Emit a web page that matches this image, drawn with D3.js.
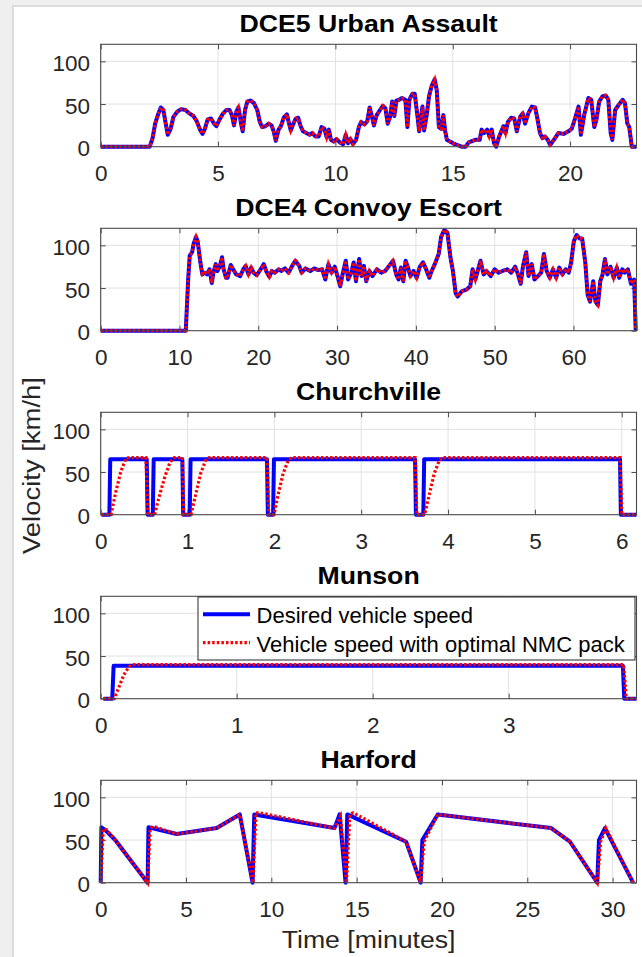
<!DOCTYPE html>
<html>
<head>
<meta charset="utf-8">
<script src="https://cdn.jsdelivr.net/npm/d3@7"></script>
<style>
  body { margin: 0; background: #fff; }
  svg text { font-family: "Liberation Sans", Arial, Helvetica, sans-serif; }
</style>
</head>
<body>
<div id="chart"></div>
<script>
// ---- drive cycle data (time in minutes, speed in km/h) ----
var dce5Time = [0, 2.09, 2.21, 2.32, 2.46, 2.56, 2.67, 2.77, 2.86, 2.98, 3.10, 3.26, 3.43, 3.61, 3.78, 3.95, 4.09, 4.23, 4.34, 4.44,
  4.56, 4.70, 4.83, 4.93, 5.05, 5.19, 5.35, 5.49, 5.59, 5.68, 5.78, 5.87, 5.98, 6.05, 6.15, 6.25, 6.39, 6.53, 6.67, 6.78,
  6.88, 7.02, 7.16, 7.28, 7.37, 7.46, 7.58, 7.68, 7.80, 7.93, 8.01, 8.10, 8.21, 8.31, 8.41, 8.52, 8.62, 8.76, 8.90, 9.02,
  9.15, 9.29, 9.41, 9.53, 9.63, 9.72, 9.81, 9.93, 10.05, 10.19, 10.33, 10.44, 10.54, 10.64, 10.75, 10.88, 11.0, 11.1, 11.24, 11.36,
  11.46, 11.55, 11.64, 11.76, 11.90, 12.02, 12.13, 12.23, 12.32, 12.42, 12.51, 12.60, 12.72, 12.84, 12.98, 13.07, 13.15, 13.28, 13.38, 13.50,
  13.57, 13.64, 13.71, 13.78, 13.89, 13.99, 14.11, 14.23, 14.32, 14.41, 14.51, 14.6, 14.68, 14.75, 14.88, 15.02, 15.2, 15.37, 15.55, 15.68,
  15.96, 16.15, 16.23, 16.33, 16.47, 16.56, 16.66, 16.76, 16.85, 16.98, 17.16, 17.25, 17.35, 17.49, 17.62, 17.73, 17.87, 17.98, 18.08, 18.22,
  18.37, 18.51, 18.62, 18.72, 18.82, 18.93, 19.05, 19.15, 19.36, 19.5, 19.72, 19.93, 20.07, 20.21, 20.36, 20.46, 20.6, 20.78, 20.9, 21.03,
  21.12, 21.24, 21.38, 21.52, 21.63, 21.73, 21.8, 21.92, 22.07, 22.24, 22.34, 22.44, 22.52, 22.63, 22.83];
var dce5Desired = [0, 0, 10, 27, 39, 46, 43, 27, 14, 21, 35, 41, 44, 43, 39, 36, 30, 20, 15, 21,
  32, 33, 27, 24, 31, 38, 43, 43, 37, 25, 41, 46, 27, 18, 43, 53, 54, 51, 43, 29,
  23, 24, 27, 25, 18, 7, 20, 24, 34, 38, 29, 19, 27, 33, 34, 24, 18, 16, 14, 16,
  12, 12, 23, 21, 11, 20, 8, 6, 9, 5, 3, 14, 4, 9, 3, 8, 23, 29, 26, 30,
  46, 36, 25, 37, 43, 48, 45, 27, 34, 53, 36, 54, 55, 57, 55, 23, 55, 62, 62, 35,
  18, 33, 47, 19, 37, 59, 72, 79, 66, 23, 21, 37, 18, 8, 6, 4, 2, 0, 0, 5,
  8, 8, 20, 16, 20, 12, 20, 4, 0, 12, 24, 16, 29, 34, 33, 18, 35, 39, 27, 39,
  47, 46, 31, 16, 10, 12, 8, 2, 10, 16, 15, 18, 21, 33, 47, 14, 37, 57, 55, 23,
  31, 53, 59, 60, 55, 16, 8, 43, 49, 55, 51, 27, 23, 0, 0];
var dce5Vehicle = dce5Desired; // the pack follows this cycle exactly at this scale

var dce4Time = [0, 10.8, 11.1, 11.3, 11.6, 11.8, 12.1, 12.3, 12.65, 12.9, 13.2, 13.5, 13.8, 14.1, 14.3, 14.6, 14.8, 15.1, 15.4, 15.6,
  15.9, 16.1, 16.5, 16.8, 17.2, 17.7, 18.1, 18.4, 18.75, 19.1, 19.4, 19.8, 20.3, 20.7, 21.0, 21.4, 21.7, 22.1, 22.6, 22.9,
  23.4, 23.85, 24.3, 24.7, 25.2, 25.5, 26.0, 26.6, 27.1, 27.6, 28.1, 28.5, 28.9, 29.3, 29.7, 30.05, 30.4, 30.7, 31.1, 31.4,
  31.8, 32.1, 32.4, 32.8, 33.1, 33.4, 33.7, 34.1, 34.5, 35.05, 35.6, 36.1, 36.6, 37.1, 37.5, 37.8, 38.1, 38.4, 38.7, 39.0,
  39.3, 39.7, 40.1, 40.5, 40.9, 41.3, 41.7, 42.0, 42.4, 42.9, 43.2, 43.6, 44.0, 44.4, 44.7, 45.05, 45.3, 45.8, 46.4, 46.9,
  47.2, 47.55, 47.9, 48.2, 48.6, 48.96, 49.5, 50.0, 50.5, 51.0, 51.6, 52.1, 52.6, 52.97, 53.3, 53.6, 54.0, 54.3, 54.7, 55.05,
  55.5, 55.9, 56.25, 56.6, 57.0, 57.4, 57.8, 58.2, 58.6, 59.0, 59.4, 59.7, 60.05, 60.4, 60.8, 61.1, 61.5, 61.8, 62.1, 62.5,
  62.8, 63.1, 63.4, 63.7, 64.0, 64.3, 64.7, 65.1, 65.5, 65.8, 66.2, 66.5, 66.9, 67.3, 67.7, 67.9];
var dce4Desired = [0, 0, 60, 88, 92, 102, 110, 105, 80, 66, 68, 66, 72, 56, 68, 78, 70, 75, 86, 72,
  62, 62, 77, 72, 66, 64, 72, 76, 66, 74, 68, 65, 72, 78, 70, 63, 70, 68, 72, 70,
  73, 68, 76, 82, 76, 68, 73, 70, 73, 71, 72, 60, 78, 68, 75, 64, 52, 66, 82, 60,
  68, 80, 58, 84, 64, 76, 58, 70, 64, 72, 68, 70, 76, 82, 66, 60, 74, 58, 82, 74,
  64, 70, 62, 75, 80, 72, 62, 70, 78, 90, 110, 118, 115, 85, 70, 44, 40, 46, 48, 52,
  72, 60, 72, 82, 66, 70, 64, 72, 68, 70, 72, 68, 75, 66, 55, 76, 92, 64, 78, 60,
  64, 68, 90, 70, 62, 72, 62, 74, 66, 72, 68, 80, 105, 112, 108, 108, 80, 42, 34, 58,
  34, 30, 58, 66, 84, 66, 75, 62, 74, 62, 72, 68, 72, 55, 60, 0];
var dce4Vehicle = dce4Desired; // the pack follows this cycle exactly at this scale

var churchDesiredTime = [0.01, 0.10, 0.11, 0.53, 0.54, 0.60, 0.61, 0.94, 0.95, 1.025, 1.035, 1.915, 1.925, 1.985, 1.995, 3.62, 3.63, 3.715, 3.725, 5.98, 5.99, 6.17];
var churchDesired = [0, 0, 65, 65, 0, 0, 65, 65, 0, 0, 65, 65, 0, 0, 65, 65, 0, 0, 65, 65, 0, 0];
var churchVehicleTime = [0.01, 0.12, 0.17, 0.23, 0.29, 0.34, 0.52, 0.545, 0.62, 0.67, 0.74, 0.80, 0.85, 0.94, 0.955, 1.04, 1.09, 1.15, 1.21, 1.25,
  1.915, 1.935, 1.995, 2.04, 2.10, 2.16, 2.20, 3.62, 3.64, 3.73, 3.78, 3.84, 3.90, 3.94, 5.98, 6.0, 6.17];
var churchVehicle = [0, 0, 25, 50, 66, 67, 67, 0, 0, 20, 45, 62, 67, 67, 0, 0, 22, 48, 64, 67,
  67, 0, 0, 22, 48, 64, 67, 67, 0, 0, 22, 48, 64, 67, 67, 0, 0];

var munsonDesiredTime = [0.02, 0.085, 0.095, 3.84, 3.85, 3.94];
var munsonDesired = [0, 0, 38.5, 38.5, 0, 0];
var munsonVehicleTime = [0.02, 0.10, 0.13, 0.17, 0.21, 0.25, 3.845, 3.865, 3.94];
var munsonVehicle = [0, 0, 12, 28, 38, 40, 40, 0, 0];

var harfordDesiredTime = [0, 0.04, 0.3, 0.85, 2.75, 2.8, 4.45, 6.8, 8.15, 8.9, 9.0, 13.7, 14.0, 14.35, 14.45, 17.9, 18.75, 18.85, 19.75, 26.4,
  27.5, 29.1, 29.2, 29.55, 31.2];
var harfordDesired = [0, 65, 61, 50, 0, 65, 57, 64, 80, 0, 80, 64, 80, 0, 80, 48, 0, 50, 80, 64,
  48, 0, 50, 64, 0];
var harfordVehicleTime = [0, 0.15, 0.35, 0.85, 2.75, 2.9, 3.1, 4.45, 6.8, 8.15, 8.92, 9.1, 9.3, 13.7, 14.05, 14.4, 14.6, 14.8, 17.9, 18.75,
  18.95, 19.75, 26.4, 27.5, 29.1, 29.3, 29.6, 31.2];
var harfordVehicle = [0, 63, 62, 50, 0, 64, 66, 57, 64, 80, 0, 82, 82, 64, 78, 0, 80, 82, 48, 0,
  48, 80, 64, 48, 0, 48, 64, 0];

var titles = ["DCE5 Urban Assault", "DCE4 Convoy Escort", "Churchville", "Munson", "Harford"];
var xMaxes = [22.83, 68, 6.17, 3.94, 31.4];
var xTickSets = [[0, 5, 10, 15, 20], [0, 10, 20, 30, 40, 50, 60], [0, 1, 2, 3, 4, 5, 6], [0, 1, 2, 3], [0, 5, 10, 15, 20, 25, 30]];
var yTicks = [0, 50, 100];
var seriesNames = ["Desired vehicle speed", "Vehicle speed with optimal NMC pack"];

var desiredSeries = [
  [dce5Time, dce5Desired], [dce4Time, dce4Desired], [churchDesiredTime, churchDesired],
  [munsonDesiredTime, munsonDesired], [harfordDesiredTime, harfordDesired]];
var vehicleSeries = [
  [dce5Time, dce5Vehicle], [dce4Time, dce4Vehicle], [churchVehicleTime, churchVehicle],
  [munsonVehicleTime, munsonVehicle], [harfordVehicleTime, harfordVehicle]];

// ---- layout ----
var W = 642, H = 957;
var left = 100.7, right = 636.5, firstTop = 44.3, step = 184, plotH = 102.4;
var axisColor = "#4a4a4a", gridColor = "#e2e2e2", textColor = "#262626";
var blueWidth = 4, redWidth = 3.2, redDash = "2.5,2.1";

var svg = d3.select("#chart").append("svg")
    .attr("width", W)
    .attr("height", H);

// window frame around the figure
svg.append("rect").attr("width", W).attr("height", H).style("fill", "#efefef");
svg.append("rect").attr("x", 12).attr("y", 5).attr("width", W).attr("height", H).style("fill", "#dddddd");
svg.append("rect").attr("x", 14).attr("y", 7).attr("width", W).attr("height", H).style("fill", "#ffffff");

var line = d3.line();

titles.forEach(function(title, i) {
  var top = firstTop + i * step;
  var x = d3.scaleLinear().domain([0, xMaxes[i]]).range([left, right]);
  var y = d3.scaleLinear().domain([0, 120]).range([top + plotH, top]);
  var g = svg.append("g");

  // grid
  g.selectAll(".vgrid").data(xTickSets[i]).enter().append("line")
      .attr("x1", function(d) { return x(d); }).attr("x2", function(d) { return x(d); })
      .attr("y1", top).attr("y2", top + plotH)
      .style("stroke", gridColor).style("stroke-width", 1);
  g.selectAll(".hgrid").data(yTicks.slice(1)).enter().append("line")
      .attr("x1", left).attr("x2", right)
      .attr("y1", function(d) { return y(d); }).attr("y2", function(d) { return y(d); })
      .style("stroke", gridColor).style("stroke-width", 1);

  // axes with ticks pointing inwards
  var fmt = d3.format("d");
  var xb = g.append("g").attr("transform", "translate(0," + (top + plotH) + ")")
      .call(d3.axisBottom(x).tickValues(xTickSets[i]).tickFormat(fmt).tickSizeInner(-5).tickSizeOuter(0).tickPadding(18));
  var xt = g.append("g").attr("transform", "translate(0," + top + ")")
      .call(d3.axisTop(x).tickValues(xTickSets[i]).tickSizeInner(-5).tickSizeOuter(0).tickFormat(""));
  var yl = g.append("g").attr("transform", "translate(" + left + ",0)")
      .call(d3.axisLeft(y).tickValues(yTicks).tickFormat(fmt).tickSizeInner(-5).tickSizeOuter(0).tickPadding(10.7));
  var yr = g.append("g").attr("transform", "translate(" + right + ",0)")
      .call(d3.axisRight(y).tickValues(yTicks).tickSizeInner(-5).tickSizeOuter(0).tickFormat(""));
  [xb, xt, yl, yr].forEach(function(a) {
    a.select(".domain").remove();
    a.selectAll(".tick line").style("stroke", axisColor);
    a.selectAll(".tick text").style("font-size", "22.5px").style("fill", textColor)
      .style("font-family", '"Liberation Sans", Arial, sans-serif');
  });
  yl.selectAll(".tick text").attr("dy", "0.4em");

  // speed traces
  var d = desiredSeries[i], v = vehicleSeries[i];
  g.append("path")
      .datum(d[0].map(function(t, j) { return [x(t), y(d[1][j])]; }))
      .attr("d", line)
      .style("fill", "none").style("stroke", "#0000ff").style("stroke-width", blueWidth)
      .style("stroke-linejoin", "round");
  g.append("path")
      .datum(v[0].map(function(t, j) { return [x(t), y(v[1][j])]; }))
      .attr("d", line)
      .style("fill", "none").style("stroke", "#ff0000").style("stroke-width", redWidth)
      .style("stroke-dasharray", redDash);

  // box
  g.append("rect")
      .attr("x", left).attr("y", top).attr("width", right - left).attr("height", plotH)
      .style("fill", "none").style("stroke", axisColor).style("stroke-width", 1.1);

  // title
  g.append("text")
      .attr("transform", "translate(" + ((left + right) / 2) + "," + (top - 12.5) + ") scale(1.16,1)")
      .attr("text-anchor", "middle")
      .style("font-size", "23px").style("font-weight", "bold").style("fill", "#000")
      .text(title);

  // legend sits in the Munson panel
  if (i === 3) {
    var lg = g.append("g");
    lg.append("rect")
        .attr("x", 198).attr("y", top + 0.7).attr("width", 437).attr("height", 63)
        .style("fill", "#fff").style("stroke", "#262626").style("stroke-width", 1);
    var styles = [{c: "#0000ff", w: blueWidth, dash: null}, {c: "#ff0000", w: redWidth, dash: redDash}];
    seriesNames.forEach(function(name, k) {
      var ly = top + 18 + k * 28.4;
      lg.append("line")
          .attr("x1", 203).attr("x2", 250).attr("y1", ly).attr("y2", ly)
          .style("stroke", styles[k].c).style("stroke-width", styles[k].w)
          .style("stroke-dasharray", styles[k].dash);
      lg.append("text")
          .attr("x", 256.6).attr("y", ly + 9)
          .style("font-size", "22px").style("fill", "#000")
          .text(name);
    });
  }
});

// axis labels
svg.append("text")
    .attr("transform", "translate(" + ((left + right) / 2) + ",948) scale(1.16,1)")
    .attr("text-anchor", "middle")
    .style("font-size", "23px").style("fill", textColor)
    .text("Time [minutes]");
svg.append("text")
    .attr("transform", "translate(39.5,465.5) rotate(-90) scale(1.12,1)")
    .attr("text-anchor", "middle")
    .style("font-size", "24.5px").style("fill", textColor)
    .text("Velocity [km/h]");
</script>
</body>
</html>
